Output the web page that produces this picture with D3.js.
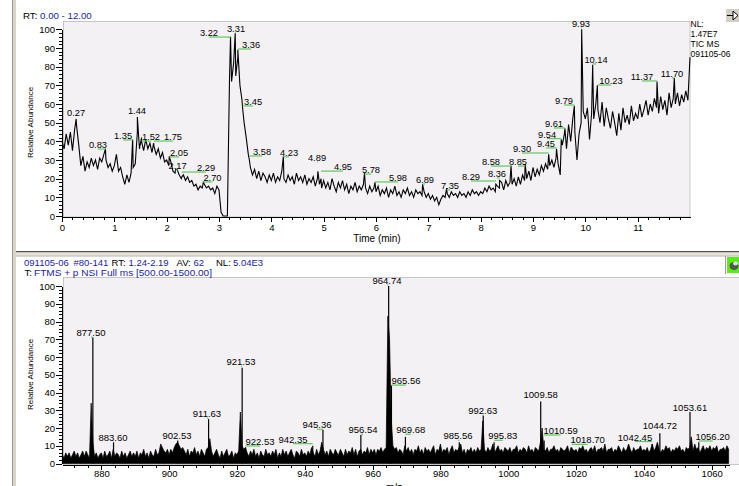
<!DOCTYPE html>
<html><head><meta charset="utf-8">
<script src="https://cdn.jsdelivr.net/npm/d3@7"></script>
<style>
body{margin:0;background:#fff;}
svg{display:block;font-family:"Liberation Sans",Arial,sans-serif;}
</style></head><body>
<svg id="c" width="739" height="486"></svg>
<script>
// ---------------- DATA ----------------
// TIC chromatogram, sampled every 0.04 min from 0.00 to 12.00
const chromStart = 0, chromStep = 0.04;
const chromValues = [
 40,36,44,38,45,35,46,48,38,27,32,24,29,26,31,27,30,25,31,29,33,30,26,28,24,
 27,33,24,26,21,17,22,18,23,26,28,45,36,42,35,41,36,39,34,37,33,36,31,34,29,
 30,27,29,24,23,25,22,20,22,19,21,18,19,16,17,14,16,15,17,15,16,14,15,12,16,
 14,2,0,0,0,72,72,82,75,85,70,62,50,42,33,26,22,25,20,24,19,23,21,18,22,
 19,23,18,21,19,24,20,18,22,19,21,17,23,19,21,18,22,17,20,18,21,16,20,17,15,
 19,15,18,14,20,16,13,18,15,19,14,17,12,16,14,18,13,16,14,17,15,12,16,13,15,
 13,16,11,14,12,15,10,14,12,16,11,13,10,14,12,15,11,13,10,14,12,13,11,13,10,
 12,9,11,8,10,6,9,11,10,12,10,13,11,12,10,13,11,12,10,13,11,14,12,13,11,
 13,12,15,13,16,14,15,13,16,15,18,14,19,16,18,17,20,16,21,17,22,19,20,24,19,
 26,21,25,22,27,24,28,25,27,30,26,31,28,22,38,44,36,49,40,52,45,30,44,50,56,
 52,58,41,55,52,60,57,50,61,48,58,52,47,56,50,43,55,46,58,50,54,49,59,51,55,
 52,60,53,57,62,54,60,56,63,58,55,64,57,62,54,66,58,63,60,66,59,65,61,67,62,
 85
];
// labelled chromatogram apexes [time, relative abundance]
const chromPeaks = [
 [0.27,52],[0.83,36],[1.35,41],[1.44,53],[1.52,40],[1.75,39],[2.05,32],[2.17,25],
 [2.29,21],[2.70,18],[3.22,96],[3.31,98],[3.36,89],[3.45,58],[3.58,30],[4.23,32],
 [4.89,24],[4.95,20],[5.78,23],[5.98,18],[6.89,17],[7.35,15],[8.29,17],[8.36,19],
 [8.58,27],[8.85,28],[9.30,33],[9.45,36],[9.54,41],[9.61,47],[9.79,59],[9.93,100],
 [10.14,81],[10.23,70],[11.37,72],[11.70,74]
];
// chromatogram label placements in data units [text, peak time, label time, label abundance]
const chromLabels = [
 ["0.27",0.27,0.268,55.2],["0.83",0.83,0.688,38.0],["1.35",1.35,1.166,42.9],
 ["1.44",1.44,1.433,56.3],["1.52",1.52,1.700,42.3],["1.75",1.75,2.121,42.3],
 ["2.05",2.05,2.236,33.8],["2.17",2.17,2.210,26.8],["2.29",2.29,2.752,25.7],
 ["2.70",2.70,2.875,20.4],["3.22",3.22,2.809,98.0],["3.31",3.31,3.325,100.2],
 ["3.36",3.36,3.612,91.6],["3.45",3.45,3.650,61.1],["3.58",3.58,3.822,34.3],
 ["4.23",4.23,4.338,33.8],["4.89",4.89,4.873,31.1],["4.95",4.95,5.369,26.2],
 ["5.78",5.78,5.904,24.6],["5.98",5.98,6.420,20.4],["6.89",6.89,6.936,19.3],
 ["7.35",7.35,7.414,16.1],["8.29",8.29,7.815,20.9],["8.36",8.36,8.312,22.5],
 ["8.58",8.58,8.197,28.9],["8.85",8.85,8.713,28.9],["9.30",9.30,8.790,35.9],
 ["9.45",9.45,9.248,38.6],["9.54",9.54,9.268,43.6],["9.61",9.61,9.401,49.3],
 ["9.79",9.79,9.592,61.6],["9.93",9.93,9.917,102.9],["10.14",10.14,10.204,83.6],
 ["10.23",10.23,10.490,72.3],["11.37",11.37,11.083,74.5],["11.70",11.70,11.656,76.1]
];

// Mass spectrum profile baseline, sampled every 0.5 m/z from 868.5 to 1065.0
const specStart = 868.5, specStep = 0.5;
const specValues = [
 5,3,6,
 4,6,3,5,7,4,6,3,5,7,4,7,5,3,34,12,4,6,3,5,
 6,3,7,4,5,7,3,8,4,6,5,3,7,4,6,3,5,7,4,6,
 4,7,3,6,5,8,4,6,3,7,5,4,8,5,6,11,9,7,6,8,
 5,8,6,9,11,12,10,8,9,7,5,8,4,7,6,9,5,7,4,8,
 6,4,8,9,14,7,4,6,8,5,3,7,4,6,8,4,5,7,3,6,
 5,7,29,10,8,9,6,4,7,5,8,4,6,3,7,5,4,8,5,6,
 4,7,5,8,3,6,4,8,5,7,4,6,8,5,3,7,6,4,8,5,
 6,4,7,5,9,6,4,8,5,7,12,8,5,7,4,8,6,5,8,6,
 5,8,6,4,8,5,7,6,9,5,8,4,7,8,5,7,6,9,5,8,
 6,8,5,8,7,9,6,8,9,83,70,25,10,8,9,6,8,7,5,10,
 7,9,6,8,5,8,7,10,6,8,5,9,7,8,6,8,10,5,8,7,
 11,6,8,7,9,5,8,10,6,8,7,9,11,6,8,5,8,7,9,6,
 8,6,9,7,8,24,8,6,9,7,8,11,6,8,10,7,8,6,9,8,
 7,9,6,8,8,10,6,8,7,9,8,6,10,7,8,6,9,8,7,12,
 20,8,7,9,6,8,8,10,7,8,6,9,8,7,8,10,6,9,8,7,
 8,6,9,8,10,7,8,6,8,9,7,10,6,8,8,9,7,11,6,8,
 8,9,6,8,7,10,8,6,9,7,8,11,8,6,9,7,8,8,10,7,
 8,7,9,6,8,11,7,9,12,8,6,8,7,10,8,9,6,8,7,9,
 8,10,7,8,6,9,8,9,15,7,11,8,9,6,8,10,7,9,8,10,
 7,9,8,10,6,8,8,9,7,10,8
];
// centroid peaks [m/z, relative abundance]
const specPeaks = [
 [877.50,71],[883.60,12],[902.53,13],[911.63,25],[921.53,54],[922.53,9],[942.35,10],
 [945.36,19],[956.54,16],[964.74,100],[965.56,44],[969.68,15],[985.56,12],[992.63,27],
 [995.83,12],[1009.58,35],[1010.59,13],[1018.70,9],[1042.45,11],[1044.72,17],
 [1053.61,29],[1056.20,12]
];
// spectrum label placements [text, peak m/z, label m/z, label abundance]
const specLabels = [
 ["877.50",877.50,876.95,73.5],["883.60",883.60,883.44,14.5],["902.53",902.53,902.31,15.5],
 ["911.63",911.63,911.16,27.9],["921.53",921.53,921.19,57.2],["922.53",922.53,926.79,12.3],
 ["942.35",942.35,936.53,13.6],["945.36",945.36,943.60,21.7],["956.54",956.54,957.17,18.9],
 ["964.74",964.74,964.25,103.0],["965.56",965.56,969.85,46.6],["969.68",969.68,971.24,18.9],
 ["985.56",985.56,985.19,15.5],["992.63",992.63,992.47,29.7],["995.83",995.83,998.37,15.5],
 ["1009.58",1009.58,1009.58,38.6],["1010.59",1010.59,1015.47,18.5],["1018.70",1018.70,1023.44,13.2],
 ["1042.45",1042.45,1037.39,14.8],["1044.72",1044.72,1044.76,21.1],["1053.61",1053.61,1053.61,31.7],
 ["1056.20",1056.20,1060.30,15.1]
];

const timeTicks = [0,1,2,3,4,5,6,7,8,9,10,11];
const mzTicks = [880,900,920,940,960,980,1000,1020,1040,1060];
const abundTicks = [0,10,20,30,40,50,60,70,80,90,100];

// ---------------- DRAW ----------------
const W = 739, H = 486;
const BLUE = "#2323a6", GREEN = "#5cc95c", BG = "#f4f1f5";
const svg = d3.select("#c");
svg.append("rect").attr("width", W).attr("height", H).attr("fill", "#fff");

// window chrome
svg.append("rect").attr("x", 12).attr("y", 0).attr("width", 4).attr("height", H).attr("fill", "#d8d4cc");
svg.append("line").attr("x1", 12.5).attr("x2", 12.5).attr("y1", 0).attr("y2", H).attr("stroke", "#9a9a9a");
svg.append("rect").attr("x", 16).attr("y", 251).attr("width", W - 16).attr("height", 1.5).attr("fill", "#505050");
svg.append("rect").attr("x", 16).attr("y", 252.5).attr("width", W - 16).attr("height", 3).attr("fill", "#e6e2d8");
svg.append("line").attr("x1", 16).attr("x2", W).attr("y1", 256).attr("y2", 256).attr("stroke", "#b0b0b0");

// top-right button
const btn = svg.append("g");
btn.append("rect").attr("x", 726).attr("y", 9).attr("width", 13).attr("height", 13).attr("fill", "#d4d0c8");
btn.append("line").attr("x1", 727).attr("x2", 733).attr("y1", 15.5).attr("y2", 15.5).attr("stroke", "#000");
btn.append("path").attr("d", "M733,11 L738,15.5 L733,20 Z").attr("fill", "#fff").attr("stroke", "#000");

// green icon bottom-right
svg.append("line").attr("x1", 725.5).attr("x2", 725.5).attr("y1", 256).attr("y2", 274).attr("stroke", "#a0a0a0");
svg.append("rect").attr("x", 727).attr("y", 257).attr("width", 12).attr("height", 16).attr("fill", "#55ee11");
svg.append("ellipse").attr("cx", 734).attr("cy", 266).attr("rx", 4.5).attr("ry", 4).attr("fill", "#555");
svg.append("ellipse").attr("cx", 735.5).attr("cy", 263.5).attr("rx", 2.5).attr("ry", 2).attr("fill", "#ddd");

// ---------- TOP PANEL (chromatogram) ----------
const xT = d3.scaleLinear().domain([0, 12]).range([62, 690]);
const yT = d3.scaleLinear().domain([0, 100]).range([216, 29.33]);

svg.append("rect").attr("x", 63.5).attr("y", 21.5).attr("width", 626.5).attr("height", 195.5)
  .attr("fill", BG).attr("stroke", "#c6c6c6");

function styleAxis(g, fs) {
  g.selectAll("path,line").attr("stroke", "#000").attr("shape-rendering", "crispEdges");
  g.selectAll("text").attr("fill", "#000").attr("font-size", fs).attr("font-family", '"Liberation Sans",Arial,sans-serif');
}
const minorT = d3.range(0, 12.01, 0.2).filter(v => Math.abs(v - Math.round(v)) > 1e-6);
const minorA = d3.range(0, 100.01, 2).filter(v => v % 10 !== 0);

let g = svg.append("g").attr("transform", "translate(62,0)")
  .call(d3.axisLeft(yT).tickValues(abundTicks).tickSize(6).tickSizeOuter(0).tickPadding(1));
styleAxis(g, 9.5);
g = svg.append("g").attr("transform", "translate(62,0)")
  .call(d3.axisLeft(yT).tickValues(minorA).tickSize(3).tickFormat(""));
g.select(".domain").remove(); styleAxis(g, 9);

g = svg.append("g").attr("transform", "translate(0,217)")
  .call(d3.axisBottom(xT).tickValues(timeTicks).tickSize(5).tickSizeOuter(0).tickPadding(2).tickFormat(d3.format("d")));
styleAxis(g, 9.5);
g = svg.append("g").attr("transform", "translate(0,217)")
  .call(d3.axisBottom(xT).tickValues(minorT).tickSize(3).tickFormat(""));
g.select(".domain").remove(); styleAxis(g, 9);

// trace
const chromPts = chromValues.map((v, i) => [chromStart + i * chromStep, v]).concat(chromPeaks);
chromPts.sort((a, b) => a[0] - b[0]);
svg.append("path").datum(chromPts)
  .attr("d", d3.line().x(d => xT(d[0])).y(d => yT(d[1])))
  .attr("fill", "none").attr("stroke", "#000").attr("stroke-width", 1.1);

// labels
const tl = svg.append("g");
tl.selectAll("line").data(chromLabels).join("line")
  .attr("x1", d => xT(d[2])).attr("x2", d => xT(d[1]))
  .attr("y1", d => yT(d[3]) + 4).attr("y2", d => yT(d[3]) + 4)
  .attr("stroke", GREEN).attr("stroke-width", 1.2);
tl.selectAll("text").data(chromLabels).join("text")
  .attr("x", d => xT(d[2])).attr("y", d => yT(d[3]) + 3.2)
  .attr("text-anchor", "middle").attr("font-size", 9.3).text(d => d[0]);

// titles
const t1 = svg.append("text").attr("x", 23).attr("y", 19).attr("font-size", 9.7);
t1.append("tspan").text("RT: ");
t1.append("tspan").attr("fill", BLUE).text("0.00 - 12.00");
svg.append("text").attr("x", 377).attr("y", 241.5).attr("text-anchor", "middle").attr("font-size", 10).text("Time (min)");
svg.append("text").attr("transform", "translate(33,122.5) rotate(-90)").attr("text-anchor", "middle")
  .attr("font-size", 8).text("Relative Abundance");
["NL:", "1.47E7", "TIC MS", "091105-06"].forEach((s, i) => {
  svg.append("text").attr("x", 690.5).attr("y", 26.7 + i * 10).attr("font-size", 8.5).text(s);
});

// ---------- BOTTOM PANEL (spectrum) ----------
const xB = d3.scaleLinear().domain([868.4, 1065.2]).range([62, 729.3]);
const yB = d3.scaleLinear().domain([0, 100]).range([463.5, 286]);

svg.append("rect").attr("x", 63.5).attr("y", 277.5).attr("width", W - 63).attr("height", 187)
  .attr("fill", BG).attr("stroke", "#c6c6c6");

// header
[["091105-06", BLUE, 24], ["#80-141", BLUE, 73.5], ["RT:", "#000", 111.5], ["1.24-2.19", BLUE, 128.5],
 ["AV:", "#000", 176.5], ["62", BLUE, 193.5], ["NL:", "#000", 216], ["5.04E3", BLUE, 233]]
 .forEach(s => svg.append("text").attr("x", s[2]).attr("y", 265.7).attr("font-size", 9.5)
   .attr("fill", s[1]).text(s[0]));
svg.append("text").attr("x", 24.5).attr("y", 275.7).attr("font-size", 9.5).text("T:");
svg.append("text").attr("x", 34).attr("y", 275.7).attr("font-size", 9.5).attr("fill", BLUE)
  .attr("textLength", 178).attr("lengthAdjust", "spacingAndGlyphs").text("FTMS + p NSI Full ms [500.00-1500.00]");

g = svg.append("g").attr("transform", "translate(62,0)")
  .call(d3.axisLeft(yB).tickValues(abundTicks).tickSize(6).tickSizeOuter(0).tickPadding(1));
styleAxis(g, 9.5);
g = svg.append("g").attr("transform", "translate(62,0)")
  .call(d3.axisLeft(yB).tickValues(minorA).tickSize(3).tickFormat(""));
g.select(".domain").remove(); styleAxis(g, 9);

const minorMz = d3.range(872, 1065, 4).filter(v => v % 20 !== 0);
g = svg.append("g").attr("transform", "translate(0,464.5)")
  .call(d3.axisBottom(xB).tickValues(mzTicks).tickSize(5).tickSizeOuter(0).tickPadding(1).tickFormat(d3.format("d")));
styleAxis(g, 9.5);
g = svg.append("g").attr("transform", "translate(0,464.5)")
  .call(d3.axisBottom(xB).tickValues(minorMz).tickSize(3).tickFormat(""));
g.select(".domain").remove(); styleAxis(g, 9);

// profile baseline
const specPts = specValues.map((v, i) => [specStart + i * specStep, v]);
svg.append("path").datum(specPts)
  .attr("d", d3.area().x(d => xB(d[0])).y0(yB(0)).y1(d => yB(d[1])))
  .attr("fill", "#000").attr("stroke", "#000").attr("stroke-width", 0.7);
// peak sticks
svg.append("g").selectAll("line").data(specPeaks).join("line")
  .attr("x1", d => xB(d[0])).attr("x2", d => xB(d[0]))
  .attr("y1", yB(0)).attr("y2", d => yB(d[1]))
  .attr("stroke", "#000").attr("stroke-width", 1.2);

const bl = svg.append("g");
bl.selectAll("line").data(specLabels).join("line")
  .attr("x1", d => xB(d[2])).attr("x2", d => xB(d[1]))
  .attr("y1", d => yB(d[3]) + 4.3).attr("y2", d => yB(d[3]) + 4.3)
  .attr("stroke", GREEN).attr("stroke-width", 1.2);
bl.selectAll("text").data(specLabels).join("text")
  .attr("x", d => xB(d[2])).attr("y", d => yB(d[3]) + 3.4)
  .attr("text-anchor", "middle").attr("font-size", 9.5).text(d => d[0]);

svg.append("text").attr("transform", "translate(33,374.5) rotate(-90)").attr("text-anchor", "middle")
  .attr("font-size", 8).text("Relative Abundance");
svg.append("text").attr("x", 394).attr("y", 491).attr("text-anchor", "middle").attr("font-size", 10).text("m/z");
</script>
</body></html>
